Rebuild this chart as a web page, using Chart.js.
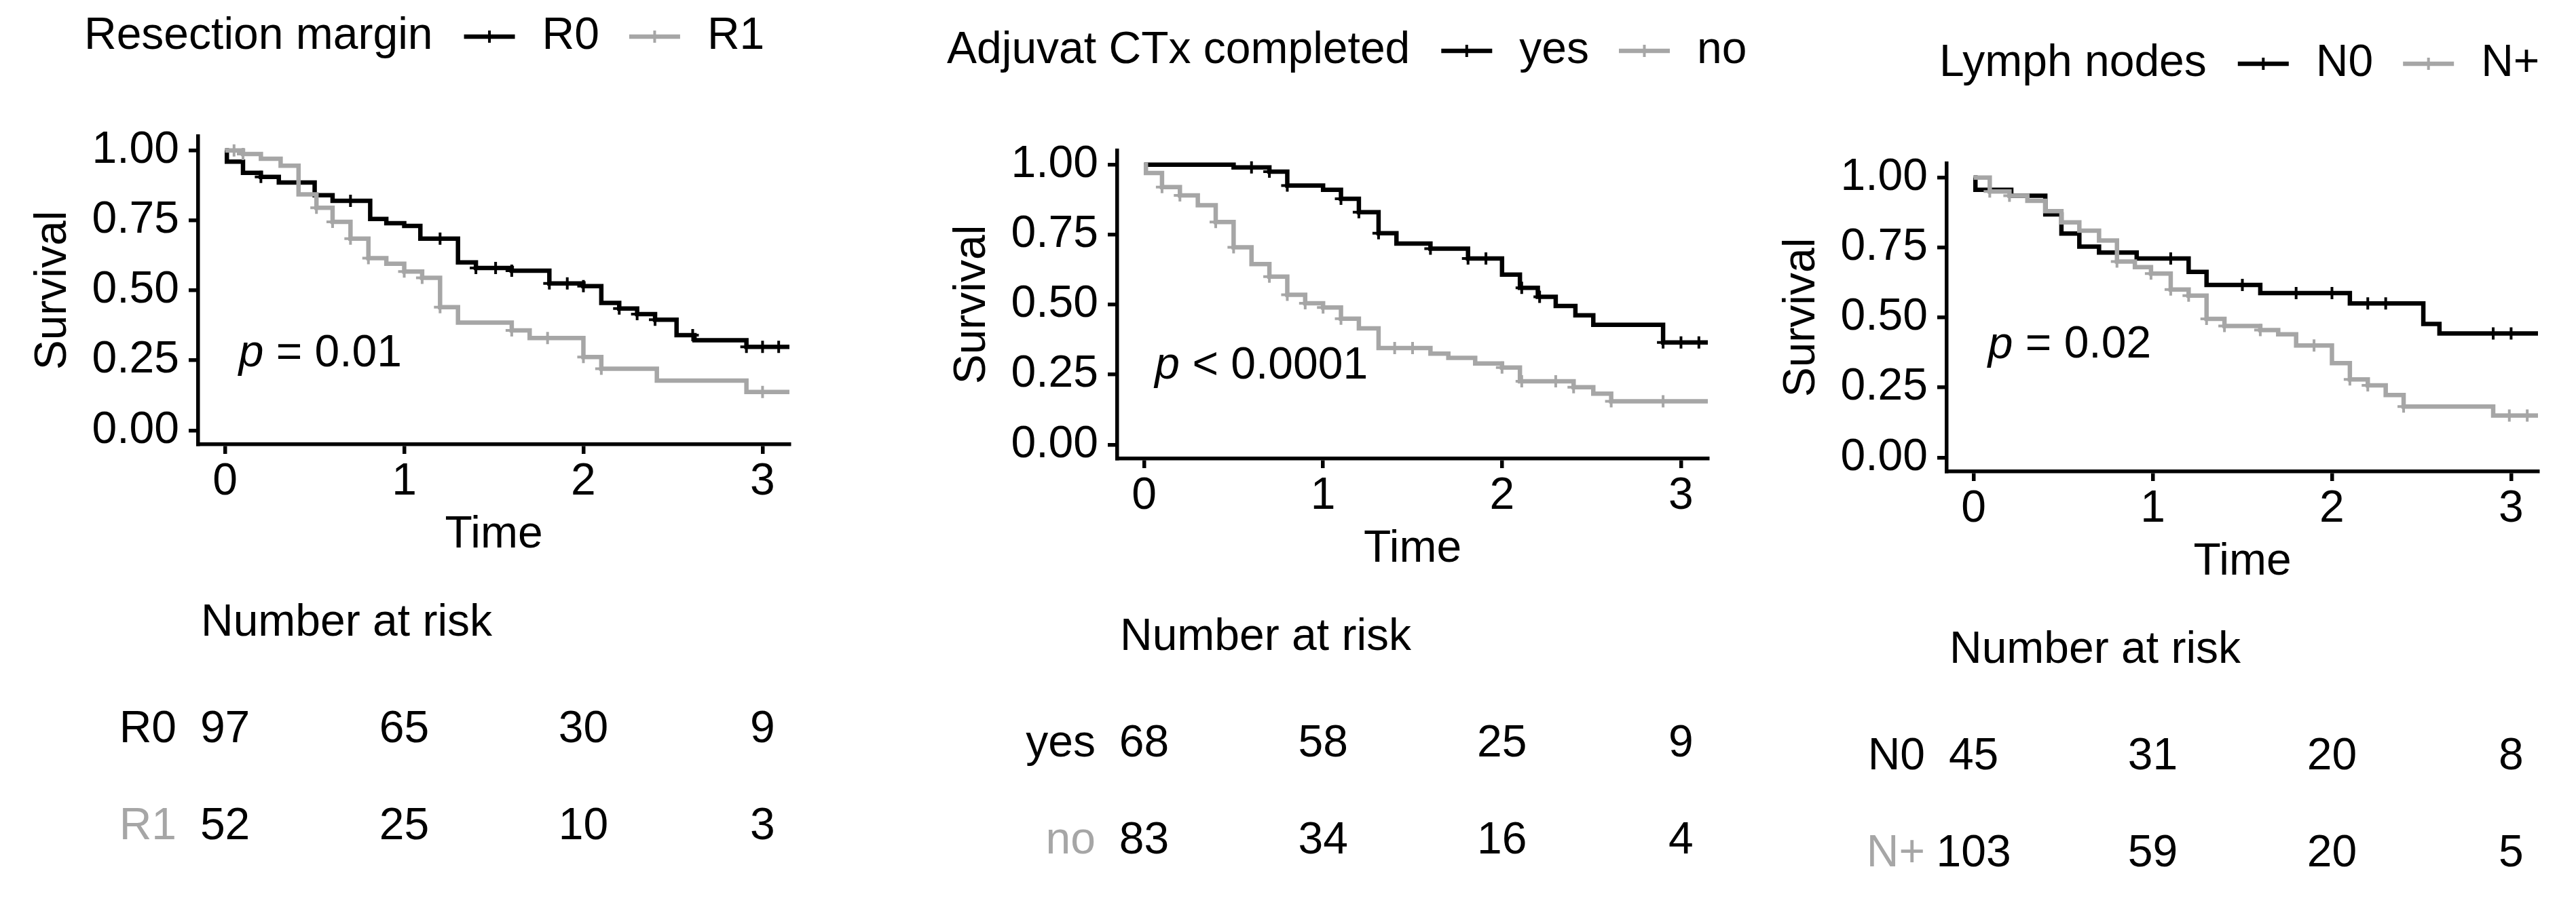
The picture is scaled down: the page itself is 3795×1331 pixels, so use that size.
<!DOCTYPE html>
<html><head><meta charset="utf-8">
<script src="https://cdn.jsdelivr.net/npm/chart.js@4/dist/chart.umd.min.js"></script>
<style>
html,body{margin:0;padding:0;background:#fff;}
#wrap{display:flex;width:3795px;height:1331px;background:#fff;}
canvas{display:block;}
</style></head><body>
<div id="wrap">
<canvas id="c1" width="1260" height="1331"></canvas>
<canvas id="c2" width="1325" height="1331"></canvas>
<canvas id="c3" width="1210" height="1331"></canvas>
</div>
<script>
// ---------- data ----------
const timeTicks = [0, 1, 2, 3];
const timeTickLabels = ["0", "1", "2", "3"];
const survTicks = [0, 0.25, 0.5, 0.75, 1];
const survTickLabels = ["0.00", "0.25", "0.50", "0.75", "1.00"];

// Panel 1: Resection margin
const r0Time = [0, 0.01, 0.10, 0.20, 0.30, 0.50, 0.60, 0.81, 0.90, 1.00, 1.09, 1.30, 1.40, 1.60, 1.81, 2.00, 2.10, 2.20, 2.30, 2.40, 2.52, 2.62, 2.91, 3.15];
const r0Surv = [1.00, 0.96, 0.92, 0.905, 0.885, 0.84, 0.82, 0.755, 0.74, 0.73, 0.685, 0.60, 0.58, 0.57, 0.525, 0.515, 0.455, 0.435, 0.415, 0.395, 0.34, 0.322, 0.298, 0.298];
const r0Censor = [0.20, 0.70, 1.20, 1.40, 1.51, 1.60, 1.81, 1.91, 2.00, 2.20, 2.30, 2.40, 2.61, 2.91, 3.00, 3.09];
const r1Time = [0, 0.10, 0.20, 0.31, 0.41, 0.51, 0.60, 0.70, 0.80, 0.90, 1.00, 1.10, 1.20, 1.30, 1.60, 1.70, 2.00, 2.10, 2.41, 2.91, 3.15];
const r1Surv = [1.00, 0.987, 0.97, 0.945, 0.843, 0.795, 0.745, 0.685, 0.615, 0.595, 0.567, 0.545, 0.44, 0.385, 0.357, 0.33, 0.262, 0.22, 0.178, 0.137, 0.137];
const r1Censor = [0.05, 0.10, 0.51, 0.60, 0.70, 0.80, 1.00, 1.10, 1.20, 1.60, 1.80, 2.00, 2.10, 3.00];
const riskR0 = [97, 65, 30, 9];
const riskR1 = [52, 25, 10, 3];

// Panel 2: Adjuvat CTx completed
const yesTime = [0, 0.50, 0.70, 0.80, 1.00, 1.10, 1.20, 1.31, 1.41, 1.60, 1.81, 2.00, 2.10, 2.20, 2.30, 2.41, 2.51, 2.90, 3.15];
const yesSurv = [1.00, 0.99, 0.975, 0.925, 0.91, 0.878, 0.83, 0.755, 0.718, 0.70, 0.665, 0.607, 0.56, 0.528, 0.495, 0.462, 0.428, 0.365, 0.365];
const yesCensor = [0.60, 0.70, 0.80, 1.10, 1.20, 1.31, 1.60, 1.81, 1.91, 2.11, 2.21, 2.90, 3.00, 3.10];
const noTime = [0, 0.01, 0.10, 0.20, 0.30, 0.40, 0.50, 0.60, 0.70, 0.80, 0.90, 1.00, 1.10, 1.20, 1.31, 1.60, 1.70, 1.85, 2.00, 2.10, 2.40, 2.51, 2.61, 3.15];
const noSurv = [1.00, 0.97, 0.92, 0.89, 0.855, 0.795, 0.705, 0.645, 0.60, 0.535, 0.505, 0.49, 0.45, 0.415, 0.345, 0.325, 0.31, 0.29, 0.275, 0.226, 0.205, 0.182, 0.155, 0.155];
const noCensor = [0.10, 0.20, 0.40, 0.50, 0.70, 0.80, 0.90, 1.00, 1.10, 1.40, 1.50, 2.00, 2.11, 2.30, 2.40, 2.61, 2.90];
const riskYes = [68, 58, 25, 9];
const riskNo = [83, 34, 16, 4];

// Panel 3: Lymph nodes
const n0Time = [0, 0.01, 0.21, 0.40, 0.49, 0.59, 0.70, 0.91, 1.20, 1.30, 1.60, 2.10, 2.51, 2.60, 3.15];
const n0Surv = [1.00, 0.956, 0.935, 0.868, 0.80, 0.753, 0.732, 0.711, 0.663, 0.616, 0.587, 0.55, 0.477, 0.443, 0.443];
const n0Censor = [0.80, 1.10, 1.50, 1.80, 2.00, 2.20, 2.30, 2.90, 3.00];
const npTime = [0, 0.09, 0.20, 0.30, 0.40, 0.49, 0.59, 0.70, 0.80, 0.90, 0.99, 1.10, 1.20, 1.30, 1.40, 1.60, 1.70, 1.80, 2.00, 2.10, 2.20, 2.30, 2.40, 2.90, 3.15];
const npSurv = [1.00, 0.95, 0.935, 0.917, 0.88, 0.84, 0.81, 0.775, 0.70, 0.68, 0.657, 0.60, 0.578, 0.495, 0.47, 0.455, 0.44, 0.40, 0.337, 0.279, 0.258, 0.223, 0.182, 0.15, 0.15];
const npCensor = [0.09, 0.20, 0.80, 0.99, 1.10, 1.20, 1.30, 1.40, 1.60, 1.90, 2.10, 2.20, 2.40, 2.99, 3.09];
const riskN0 = [45, 31, 20, 8];
const riskNp = [103, 59, 20, 5];

const legendTitles = ["Resection margin", "Adjuvat CTx completed", "Lymph nodes"];
const groupNames = [["R0", "R1"], ["yes", "no"], ["N0", "N+"]];
const pOps = ["=", "<", "="];
const pVals = ["0.01", "0.0001", "0.02"];

// ---------- styling / layout ----------
const BLACK = "#000000", GREY = "#a6a6a6";
const FAM = '"Liberation Sans", Arial, Helvetica, sans-serif';
const FS = 66;
const YW = 253, XH = 173, H = 1331;
const CURVE_W = 6.5, AXIS_W = 5.5, CROSS_R = 9, CROSS_W = 4;

const panels = [
  { id: "c1", w: 1260, L: 292, R: 1163, T: 201, B: 655, legendX: 124, pX: 0.076, pY: 0.273,
    series: [[r0Time, r0Surv, r0Censor, riskR0], [r1Time, r1Surv, r1Censor, riskR1]] },
  { id: "c2", w: 1325, L: 386, R: 1256, T: 222, B: 676, legendX: 135, pX: 0.06, pY: 0.28,
    series: [[yesTime, yesSurv, yesCensor, riskYes], [noTime, noSurv, noCensor, riskNo]] },
  { id: "c3", w: 1210, L: 283, R: 1154, T: 241, B: 695, legendX: 272, pX: 0.08, pY: 0.40,
    series: [[n0Time, n0Surv, n0Censor, riskN0], [npTime, npSurv, npCensor, riskNp]] }
];

Chart.defaults.font.family = FAM;
Chart.defaults.font.size = FS;
Chart.defaults.color = BLACK;

function survAt(times, surv, t) {
  let s = surv[0];
  for (let i = 0; i < times.length; i++) if (times[i] <= t) s = surv[i];
  return s;
}

function drawCross(ctx, x, y, r, color, lw) {
  ctx.save();
  ctx.strokeStyle = color; ctx.lineWidth = lw;
  ctx.beginPath();
  ctx.moveTo(x - r, y); ctx.lineTo(x + r, y);
  ctx.moveTo(x, y - r); ctx.lineTo(x, y + r);
  ctx.stroke();
  ctx.restore();
}

function makePanel(p, k) {
  const colors = [BLACK, GREY];
  const datasets = [];
  // grey group first so it is painted on top
  [1, 0].forEach(g => {
    const [tm, sv, cs] = p.series[g];
    datasets.push({
      type: "line",
      data: tm.map((t, i) => ({ x: t, y: sv[i] })),
      stepped: "before",
      borderColor: colors[g], backgroundColor: colors[g],
      borderWidth: CURVE_W, pointRadius: 0, fill: false, tension: 0
    });
    datasets.push({
      type: "scatter",
      data: cs.map(t => ({ x: t, y: survAt(tm, sv, t) })),
      showLine: false,
      pointStyle: "cross", pointRadius: CROSS_R, pointBorderWidth: CROSS_W,
      borderColor: colors[g], backgroundColor: colors[g], clip: false
    });
  });

  const overlay = {
    id: "overlay" + k,
    afterDraw(chart) {
      const ctx = chart.ctx, ca = chart.chartArea;
      const xs = chart.scales.x, ys = chart.scales.y;
      ctx.save();
      ctx.textBaseline = "middle";
      ctx.font = FS + "px " + FAM;
      // legend
      let x = p.legendX; const ly = ca.top - 147;
      ctx.fillStyle = BLACK; ctx.textAlign = "left";
      ctx.fillText(legendTitles[k], x, ly);
      x += ctx.measureText(legendTitles[k]).width + 46;
      [0, 1].forEach(g => {
        ctx.save();
        ctx.strokeStyle = colors[g]; ctx.lineWidth = CURVE_W;
        ctx.beginPath(); ctx.moveTo(x, ly); ctx.lineTo(x + 75, ly); ctx.stroke();
        ctx.restore();
        drawCross(ctx, x + 37.5, ly, CROSS_R, colors[g], CROSS_W);
        x += 75 + 40;
        ctx.fillStyle = BLACK;
        ctx.fillText(groupNames[k][g], x, ly);
        x += ctx.measureText(groupNames[k][g]).width + 44;
      });
      // p value
      const px = xs.getPixelForValue(p.pX), py = ys.getPixelForValue(p.pY);
      ctx.font = "italic " + FS + "px " + FAM;
      ctx.fillStyle = BLACK;
      ctx.fillText("p", px, py);
      const pw = ctx.measureText("p").width;
      ctx.font = FS + "px " + FAM;
      ctx.fillText(" " + pOps[k] + " " + pVals[k], px + pw, py);
      // number at risk
      ctx.textAlign = "left";
      ctx.fillText("Number at risk", ca.left + 4, ca.bottom + 264);
      const rowY = [ca.bottom + 421, ca.bottom + 564];
      [0, 1].forEach(g => {
        ctx.textAlign = "right";
        ctx.fillStyle = colors[g];
        ctx.fillText(groupNames[k][g], ca.left - 32, rowY[g]);
        ctx.textAlign = "center";
        ctx.fillStyle = BLACK;
        const risk = p.series[g][3];
        timeTicks.forEach((t, i) => {
          ctx.fillText(String(risk[i]), xs.getPixelForValue(t), rowY[g]);
        });
      });
      ctx.restore();
    }
  };

  const axisCommon = {
    grid: { display: true, drawOnChartArea: false, drawTicks: true, tickLength: 14, color: BLACK, lineWidth: AXIS_W },
    border: { display: true, color: BLACK, width: AXIS_W }
  };

  new Chart(document.getElementById(p.id).getContext("2d"), {
    type: "line",
    data: { datasets },
    options: {
      responsive: false, animation: false, events: [],
      layout: { padding: { left: p.L - YW, right: p.w - p.R, top: p.T, bottom: H - p.B - XH } },
      plugins: { legend: { display: false }, tooltip: { enabled: false } },
      scales: {
        x: Object.assign({
          type: "linear", min: -0.15, max: 3.15,
          afterFit(s) { s.height = XH; s.paddingLeft = 0; s.paddingRight = 0; },
          afterBuildTicks(s) { s.ticks = timeTicks.map(v => ({ value: v })); },
          ticks: { padding: 2, color: BLACK, autoSkip: false, maxRotation: 0,
                   callback: (v) => timeTickLabels[timeTicks.indexOf(v)] },
          title: { display: true, text: "Time", color: BLACK, padding: 0, font: { size: FS } }
        }, axisCommon),
        y: Object.assign({
          type: "linear", min: -0.05, max: 1.05,
          afterFit(s) { s.width = YW; s.paddingTop = 0; s.paddingBottom = 0; },
          afterBuildTicks(s) { s.ticks = survTicks.map(v => ({ value: v })); },
          ticks: { padding: 14, color: BLACK, autoSkip: false,
                   callback: (v) => survTickLabels[survTicks.indexOf(v)] },
          title: { display: true, text: "Survival", color: BLACK, padding: 0, font: { size: FS } }
        }, axisCommon)
      }
    },
    plugins: [overlay]
  });
}

panels.forEach((p, k) => makePanel(p, k));
</script>
</body></html>
